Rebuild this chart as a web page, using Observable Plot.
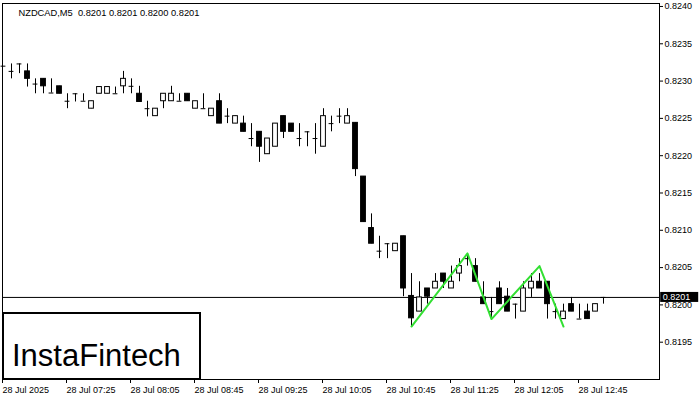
<!DOCTYPE html>
<html>
<head>
<meta charset="utf-8">
<script src="https://cdn.jsdelivr.net/npm/d3@7"></script>
<script src="https://cdn.jsdelivr.net/npm/@observablehq/plot@0.6"></script>
<style>
  html, body { margin: 0; padding: 0; background: #fff; }
  #chart { width: 700px; height: 400px; }
</style>
</head>
<body>
<div id="chart"></div>
<script>
// ---- Data (NZDCAD M5, 28 Jul 2025, 06:45 .. 13:00) ----
const symbol = "NZDCAD,M5";
const opens  = [0.82320,0.82313,0.82323,0.82313,0.82296,0.82303,0.82284,0.82293,0.82273,0.82283,
                0.82273,0.82263,0.82283,0.82283,0.82283,0.82293,0.82293,0.82283,0.82263,0.82253,
                0.82273,0.82273,0.82273,0.82283,0.82263,0.82263,0.82253,0.82273,0.82253,0.82243,
                0.82243,0.82223,0.82232,0.82202,0.82212,0.82253,0.82243,0.82223,0.82232,0.82223,
                0.82212,0.82243,0.82253,0.82243,0.82244,0.82172,0.82103,0.82072,0.82082,0.82072,
                0.82092,0.82012,0.81991,0.82022,0.82022,0.82042,0.82022,0.82042,0.82062,0.82052,
                0.82010,0.81991,0.82022,0.82011,0.82001,0.81991,0.82022,0.82031,0.82031,0.81991,
                0.81981,0.82001,0.81981,0.81991,0.81991,0.82010];
const highs  = [0.82320,0.82323,0.82323,0.82323,0.82303,0.82303,0.82303,0.82293,0.82283,0.82283,
                0.82283,0.82273,0.82292,0.82292,0.82292,0.82313,0.82303,0.82293,0.82273,0.82263,
                0.82283,0.82293,0.82283,0.82283,0.82273,0.82283,0.82263,0.82283,0.82263,0.82253,
                0.82253,0.82243,0.82232,0.82223,0.82243,0.82253,0.82243,0.82243,0.82232,0.82243,
                0.82263,0.82253,0.82263,0.82263,0.82244,0.82172,0.82122,0.82092,0.82082,0.82082,
                0.82092,0.82042,0.82031,0.82022,0.82042,0.82042,0.82052,0.82062,0.82068,0.82062,
                0.82031,0.82010,0.82031,0.82022,0.82001,0.82031,0.82042,0.82042,0.82031,0.82001,
                0.82001,0.82010,0.82001,0.82001,0.82001,0.82010];
const lows   = [0.82320,0.82303,0.82310,0.82292,0.82283,0.82283,0.82284,0.82283,0.82263,0.82272,
                0.82273,0.82263,0.82283,0.82283,0.82283,0.82283,0.82283,0.82272,0.82252,0.82253,
                0.82263,0.82273,0.82273,0.82273,0.82263,0.82263,0.82253,0.82243,0.82243,0.82243,
                0.82232,0.82212,0.82191,0.82202,0.82212,0.82223,0.82232,0.82212,0.82212,0.82202,
                0.82212,0.82232,0.82243,0.82243,0.82172,0.82111,0.82082,0.82062,0.82062,0.82072,
                0.82011,0.81971,0.81991,0.82001,0.82022,0.82022,0.82022,0.82031,0.82052,0.82031,
                0.82001,0.81981,0.82001,0.81991,0.81981,0.81991,0.82010,0.82022,0.81981,0.81981,
                0.81981,0.81991,0.81981,0.81981,0.81991,0.82001];
const closes = [0.82320,0.82313,0.82323,0.82303,0.82296,0.82293,0.82284,0.82283,0.82273,0.82283,
                0.82273,0.82273,0.82292,0.82292,0.82283,0.82303,0.82293,0.82272,0.82263,0.82263,
                0.82283,0.82283,0.82273,0.82273,0.82273,0.82263,0.82263,0.82243,0.82253,0.82253,
                0.82232,0.82223,0.82212,0.82223,0.82243,0.82232,0.82232,0.82223,0.82232,0.82223,
                0.82253,0.82243,0.82253,0.82253,0.82182,0.82111,0.82082,0.82072,0.82082,0.82082,
                0.82022,0.81982,0.82010,0.82011,0.82031,0.82031,0.82031,0.82052,0.82062,0.82031,
                0.82001,0.81991,0.82001,0.81991,0.82001,0.82022,0.82031,0.82022,0.82001,0.81991,
                0.81991,0.81991,0.81981,0.81981,0.82001,0.82010];

// time axis labels (one every 8 bars = 40 minutes)
const xTickIdx    = [0, 8, 16, 24, 32, 40, 48, 56, 64, 72];
const xTickLabels = ["28 Jul 2025","28 Jul 07:25","28 Jul 08:05","28 Jul 08:45","28 Jul 09:25",
                     "28 Jul 10:05","28 Jul 10:45","28 Jul 11:25","28 Jul 12:05","28 Jul 12:45"];
// price axis ticks
const yTicks = [0.8195,0.8200,0.8205,0.8210,0.8215,0.8220,0.8225,0.8230,0.8235,0.8240];

// pattern drawn in green (bar index, price)
const patternIdx   = [51, 58, 61, 67, 70];
const patternPrice = [0.81971, 0.82069, 0.81981, 0.82052, 0.81971];

// ---- Build table ----
const bars = opens.map((o, i) => ({i, o, h: highs[i], l: lows[i], c: closes[i]}));
const bodies = bars.filter(d => Math.abs(d.c - d.o) > 1e-7);
const dojis  = bars.filter(d => Math.abs(d.c - d.o) <= 1e-7);
const pattern = patternIdx.map((i, k) => ({i, p: patternPrice[k]}));
const last = bars[bars.length - 1];
const fmt = v => v.toFixed(4);
const title = `${symbol}  ${fmt(last.o)} ${fmt(last.h)} ${fmt(last.l)} ${fmt(last.c)}`;
const hw = 0.3; // half body width in bar units

const font = "'Liberation Sans', Arial, sans-serif";

const chart = Plot.plot({
  width: 700,
  height: 400,
  marginLeft: 2,
  marginRight: 41,
  marginTop: 3,
  marginBottom: 21,
  style: {fontFamily: font, fontSize: "9px", background: "white", color: "black"},
  x: {domain: [-0.125, 82], axis: null},
  y: {domain: [0.8190, 0.82404], axis: null},
  marks: [
    Plot.ruleY([last.c], {stroke: "black", strokeWidth: 1}),
    Plot.ruleX(bars, {x: "i", y1: "l", y2: "h", stroke: "black", strokeWidth: 1}),
    Plot.rect(bodies, {
      x1: d => d.i - hw, x2: d => d.i + hw, y1: "o", y2: "c",
      fill: d => d.c > d.o ? "white" : "black", stroke: "black", strokeWidth: 1
    }),
    Plot.ruleY(dojis, {y: "o", x1: d => d.i - hw, x2: d => d.i + hw, stroke: "black", strokeWidth: 1}),
    Plot.line(pattern, {x: "i", y: "p", stroke: "#32e032", strokeWidth: 2}),
    Plot.frame({stroke: "black", strokeWidth: 1}),
    Plot.axisY(yTicks, {anchor: "right", label: null, tickSize: 3, tickPadding: 2, tickFormat: d => d.toFixed(4),
                        fontSize: 9, fill: "black", stroke: "black"}),
    Plot.axisX(xTickIdx, {anchor: "bottom", label: null, tickSize: 4, tickPadding: 3,
                          tickFormat: d => xTickLabels[xTickIdx.indexOf(d)],
                          textAnchor: "start", dx: -1, fontSize: 9, fill: "black", stroke: "black"}),
    // current price label (black box with white text) on the price axis
    Plot.rect([last], {x1: 82.15, x2: 86.9, y1: d => d.c - 0.000067, y2: d => d.c + 0.000067,
                       fill: "black", clip: false}),
    Plot.text([last], {x: 82.4, y: "c", text: d => fmt(d.c), fill: "white", textAnchor: "start",
                       fontSize: 9, clip: false}),
    Plot.text([title], {frameAnchor: "top-left", dx: 16, dy: 6, fontSize: 9.3, textAnchor: "start", fill: "black"})
  ]
});

// brand box, bottom-left
const svg = d3.select(chart);
const g = svg.append("g").attr("text-anchor", "start");
g.append("rect").attr("x", 3).attr("y", 313).attr("width", 197).attr("height", 66)
  .attr("fill", "white").attr("stroke", "black").attr("stroke-width", 2);
g.append("text").attr("x", 12).attr("y", 366).attr("text-anchor", "start").attr("font-family", font)
  .attr("font-size", 31).attr("fill", "black").text("InstaFintech");

document.getElementById("chart").appendChild(chart);
</script>
</body>
</html>
